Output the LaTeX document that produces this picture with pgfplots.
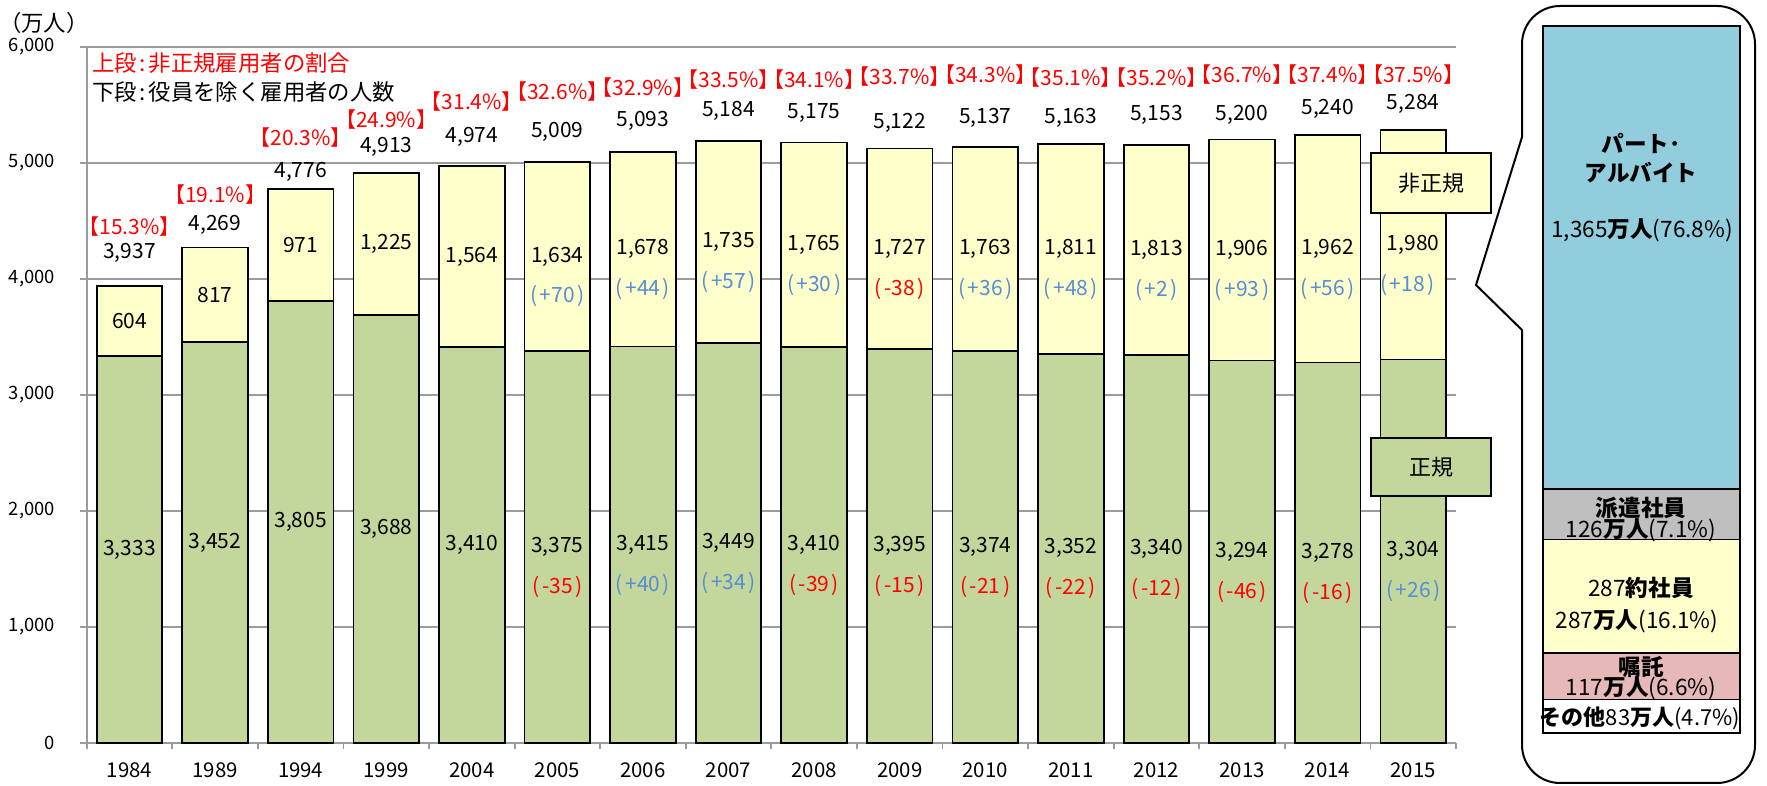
\documentclass[border=0pt]{standalone}
\usepackage{pgfplots}
\pgfplotsset{compat=1.18}
\usepackage{pgfplotstable}
\usepackage{fontspec}
\setmainfont{Noto Sans CJK JP}
\definecolor{barG}{RGB}{195,214,155}
\definecolor{barY}{RGB}{255,255,204}
\definecolor{pblue}{RGB}{146,205,221}
\definecolor{pgray}{RGB}{191,191,191}
\definecolor{ppink}{RGB}{230,185,184}
\definecolor{txtred}{RGB}{255,0,0}
\definecolor{txtblue}{RGB}{85,142,213}
\definecolor{gridgray}{RGB}{155,155,155}
\newcommand{\fnum}{\fontsize{10.5pt}{12pt}\selectfont}
\newcommand{\fyr}{\fontsize{10.2pt}{12pt}\selectfont}
\newcommand{\ftick}{\fontsize{9.2pt}{11pt}\selectfont}
\newcommand{\fleg}{\fontsize{11.2pt}{13pt}\selectfont}
\newcommand{\fbx}{\fontsize{11pt}{13pt}\selectfont}
\newcommand{\fpan}{\fontsize{11.3pt}{13pt}\selectfont}
\newcommand{\vlab}[3]{\node[font=\fnum] at (axis cs:#1,#2) {#3};}
\newcommand{\rlab}[3]{\node[font=\fnum,text=txtred] at (axis cs:#1,#2) {(\kern0.12em#3\kern0.12em)};}
\newcommand{\blab}[3]{\node[font=\fnum,text=txtblue] at (axis cs:#1,#2) {(\kern0.12em#3\kern0.12em)};}
\newcommand{\plab}[3]{\node[font=\fnum,text=txtred,inner sep=0pt] at (axis cs:#1,#2) {\kern-0.42em【#3\%】\kern-0.42em};}

\pgfplotstableread{
x G T
0 3333 3937
1 3452 4269
2 3805 4776
3 3688 4913
4 3410 4974
5 3375 5009
6 3415 5093
7 3449 5184
8 3410 5175
9 3395 5122
10 3374 5137
11 3352 5163
12 3340 5153
13 3294 5200
14 3278 5240
15 3304 5284
}\maindata

\begin{document}
\begin{tikzpicture}
\useasboundingbox (0,0) rectangle (883.5pt,393pt);
\begin{axis}[
  at={(43.35pt,21.65pt)}, anchor=south west,
  width=684.65pt, height=348pt, scale only axis,
  xmin=-0.5, xmax=15.5, ymin=0, ymax=6000,
  axis x line*=bottom, axis y line*=left,
  axis line style={gridgray, line width=0.9pt},
  xtick={-0.5,0.5,...,15.5},
  x tick label as interval,
  xticklabels={\mbox{1984},\mbox{1989},\mbox{1994},\mbox{1999},\mbox{2004},\mbox{2005},\mbox{2006},\mbox{2007},\mbox{2008},\mbox{2009},\mbox{2010},\mbox{2011},\mbox{2012},\mbox{2013},\mbox{2014},\mbox{2015}},
  ytick={0,1000,...,6000},
  yticklabel={\mbox{\pgfmathprintnumber[assume math mode=true,1000 sep={,}]{\tick}}},
  ymajorgrids, grid style={gridgray, line width=0.9pt},
  tick align=outside,
  major tick length=3.2pt,
  tick style={gridgray, line width=0.9pt},
  xticklabel style={font=\fyr, anchor=center, inner sep=0pt, yshift=-10.6pt},
  yticklabel style={font=\ftick, anchor=east, inner sep=0pt, xshift=-12.5pt},
  /pgf/number format/assume math mode=true,
  /pgf/number format/1000 sep={,},
  scaled y ticks=false,
  clip=false,
]
\addplot[ybar, bar width=0.767, bar shift=0pt, fill=barY, draw=black, line width=0.9pt] table[x=x,y=T]{\maindata};
\addplot[ybar, bar width=0.767, bar shift=0pt, fill=barG, draw=black, line width=0.9pt] table[x=x,y=G]{\maindata};
% green segment values
\vlab{0}{1666.5}{3,333}
\vlab{1}{1726}{3,452}
\vlab{2}{1902.5}{3,805}
\vlab{3}{1844}{3,688}
\vlab{4}{1705}{3,410}
\vlab{5}{1687.5}{3,375}
\vlab{6}{1707.5}{3,415}
\vlab{7}{1724.5}{3,449}
\vlab{8}{1705}{3,410}
\vlab{9}{1697.5}{3,395}
\vlab{10}{1687}{3,374}
\vlab{11}{1676}{3,352}
\vlab{12}{1670}{3,340}
\vlab{13}{1647}{3,294}
\vlab{14}{1639}{3,278}
\vlab{15}{1652}{3,304}
% yellow segment values
\vlab{0}{3635}{604}
\vlab{1}{3860.5}{817}
\vlab{2}{4290.5}{971}
\vlab{3}{4300.5}{1,225}
\vlab{4}{4192}{1,564}
\vlab{5}{4192}{1,634}
\vlab{6}{4254}{1,678}
\vlab{7}{4316.5}{1,735}
\vlab{8}{4292.5}{1,765}
\vlab{9}{4258.5}{1,727}
\vlab{10}{4255.5}{1,763}
\vlab{11}{4257.5}{1,811}
\vlab{12}{4246.5}{1,813}
\vlab{13}{4247}{1,906}
\vlab{14}{4259}{1,962}
\vlab{15}{4294}{1,980}
% changes, regular
\rlab{5}{1342.5}{-35}
\blab{6}{1362.5}{+40}
\blab{7}{1379.5}{+34}
\rlab{8}{1360}{-39}
\rlab{9}{1352.5}{-15}
\rlab{10}{1342}{-21}
\rlab{11}{1331}{-22}
\rlab{12}{1325}{-12}
\rlab{13}{1302}{-46}
\rlab{14}{1294}{-16}
\blab{15}{1307}{+26}
% changes, non-regular
\blab{5}{3847}{+70}
\blab{6}{3909}{+44}
\blab{7}{3971.5}{+57}
\blab{8}{3947.5}{+30}
\rlab{9}{3913.5}{-38}
\blab{10}{3910.5}{+36}
\blab{11}{3912.5}{+48}
\blab{12}{3901.5}{+2}
\blab{13}{3902}{+93}
\blab{14}{3914}{+56}
\blab{14.93}{3949}{+18}
% totals
\vlab{0}{4224}{3,937}
\vlab{1}{4466}{4,269}
\vlab{2}{4922}{4,776}
\vlab{3}{5138}{4,913}
\vlab{4}{5224}{4,974}
\vlab{5}{5267}{5,009}
\vlab{6}{5362}{5,093}
\vlab{7}{5448}{5,184}
\vlab{8}{5431}{5,175}
\vlab{9}{5345}{5,122}
\vlab{10}{5388}{5,137}
\vlab{11}{5388}{5,163}
\vlab{12}{5414}{5,153}
\vlab{13}{5414}{5,200}
\vlab{14}{5466}{5,240}
\vlab{15}{5509}{5,284}
% shares
\plab{0}{4448}{15.3}
\plab{1}{4724}{19.1}
\plab{2}{5216}{20.3}
\plab{3}{5371}{24.9}
\plab{4}{5526}{31.4}
\plab{5}{5612}{32.6}
\plab{6}{5647}{32.9}
\plab{7}{5716}{33.5}
\plab{8}{5716}{34.1}
\plab{9}{5741}{33.7}
\plab{10}{5759}{34.3}
\plab{11}{5733}{35.1}
\plab{12}{5733}{35.2}
\plab{13}{5759}{36.7}
\plab{14}{5759}{37.4}
\plab{15}{5759}{37.5}
\end{axis}

\begin{scope}[x=0.5pt,y=-0.5pt,shift={(0pt,393pt)}]
\node[font=\fleg] at (44,23) {（万人）};
\node[anchor=west, inner sep=0pt, text=txtred, font=\fleg] at (92,63) {上段\kern0.12em:\kern0.12em非正規雇用者の割合};
\node[anchor=west, inner sep=0pt, font=\fleg] at (92,92) {下段\kern0.12em:\kern0.12em役員を除く雇用者の人数};
\draw[line width=0.9pt, fill=barY] (1371,153) rectangle (1491,213);
\node[font=\fbx] at (1431,183) {非正規};
\draw[line width=0.9pt, fill=barG] (1371,438) rectangle (1491,496);
\node[font=\fbx] at (1431,467) {正規};
\draw[line width=1pt, fill=white] (1522,137) -- (1522,44) arc[start angle=180,end angle=270,radius=38] -- (1717,6) arc[start angle=270,end angle=360,radius=38] -- (1755,745) arc[start angle=0,end angle=90,radius=38] -- (1560,783) arc[start angle=90,end angle=180,radius=38] -- (1522,330) -- (1476,285) -- cycle;
\end{scope}

\begin{axis}[
  at={(771.5pt,26.5pt)}, anchor=south west,
  width=98.5pt, height=353.5pt, scale only axis,
  hide axis, xmin=-0.5, xmax=0.5, ymin=0, ymax=100,
  ybar stacked, bar width=1, clip=false,
]
\addplot[fill=white, draw=black, line width=0.7pt] coordinates {(0,4.7)};
\addplot[fill=ppink, draw=black, line width=0.7pt] coordinates {(0,6.6)};
\addplot[fill=barY, draw=black, line width=0.7pt] coordinates {(0,16.1)};
\addplot[fill=pgray, draw=black, line width=0.7pt] coordinates {(0,7.1)};
\addplot[fill=pblue, draw=black, line width=0.7pt] coordinates {(0,65.5)};
\end{axis}

\begin{scope}[x=0.5pt,y=-0.5pt,shift={(0pt,393pt)}, every node/.style={font=\fpan, inner sep=0pt}]
\node at (1641,143) {\bfseries パート･};
\node at (1641,173) {\bfseries アルバイト};
\node at (1642,230) {1,365{\bfseries 万人}(76.8\%)};
\node at (1641,508) {\bfseries 派遣社員};
\node at (1641,530) {126{\bfseries 万人}(7.1\%)};
\node at (1641,588) {287{\bfseries 約社員}};
\node at (1637,621) {287{\bfseries 万人}(16.1\%)};
\node at (1641,667) {\bfseries 嘱託};
\node at (1641,688) {117{\bfseries 万人}(6.6\%)};
\node[font=\fontsize{11pt}{13pt}\selectfont] at (1640,718) {{\bfseries その他}83{\bfseries 万人}(4.7\%)};
\end{scope}
\end{tikzpicture}
\end{document}
